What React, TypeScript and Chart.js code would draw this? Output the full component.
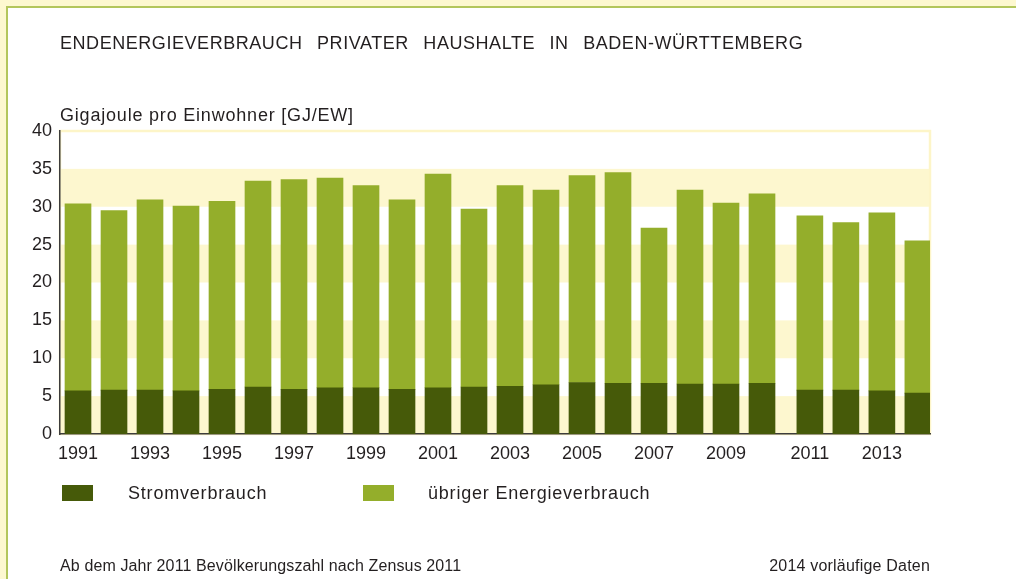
import React, { useEffect, useRef } from 'react';
import { Chart, registerables } from 'chart.js';

Chart.register(...registerables);

// ---- data ----
const years = [
  1991, 1992, 1993, 1994, 1995, 1996, 1997, 1998, 1999, 2000,
  2001, 2002, 2003, 2004, 2005, 2006, 2007, 2008, 2009, 2010,
  2011, 2012, 2013, 2014,
];
const stromverbrauch = [
  5.7, 5.8, 5.8, 5.7, 5.9, 6.2, 5.9, 6.1, 6.1, 5.9,
  6.1, 6.2, 6.3, 6.5, 6.8, 6.7, 6.7, 6.6, 6.6, 6.7,
  5.8, 5.8, 5.7, 5.4,
];
const uebrigerEnergieverbrauch = [
  24.7, 23.7, 25.1, 24.4, 24.8, 27.2, 27.7, 27.7, 26.7, 25.0,
  28.2, 23.5, 26.5, 25.7, 27.3, 27.8, 20.5, 25.6, 23.9, 25.0,
  23.0, 22.1, 23.5, 20.1,
];
const tickYears = [1991, 1993, 1995, 1997, 1999, 2001, 2003, 2005, 2007, 2009, 2011, 2013];
const yTickValues = [0, 5, 10, 15, 20, 25, 30, 35, 40];

const seriesNames = ['Stromverbrauch', 'übriger Energieverbrauch'];
const titleText = 'ENDENERGIEVERBRAUCH PRIVATER HAUSHALTE IN BADEN-WÜRTTEMBERG';
const unitText = 'Gigajoule pro Einwohner [GJ/EW]';
const noteLeft = 'Ab dem Jahr 2011 Bevölkerungszahl nach Zensus 2011';
const noteRight = '2014 vorläufige Daten';

// ---- styles / layout ----
const CENSUS_BREAK = 2011;
const BREAK_GAP = 0.33; // extra space before the census break
const DARK = '#465a09';
const LIGHT = '#94ae2b';
const STRIPE = '#fdf7cf';
const FRAME_YELLOW = '#fdf5c8';
const OUTER_YELLOW = '#fdf8d0';
const OUTER_GREEN = '#b3c65c';
const TEXT = '#231f20';
const FONT = '"Liberation Sans", Arial, sans-serif';

const pos = (year: number) => (year >= CENSUS_BREAK ? year + BREAK_GAP : year);

const stripePlugin = {
  id: 'stripes',
  beforeDraw(chart: any) {
    const { ctx, chartArea: a, scales } = chart;
    const y = scales.y;
    ctx.save();
    ctx.fillStyle = STRIPE;
    for (let i = 0; i < yTickValues.length - 1; i += 2) {
      const top = y.getPixelForValue(yTickValues[i + 1]);
      const bot = y.getPixelForValue(yTickValues[i]);
      ctx.fillRect(a.left, top, a.right - a.left, bot - top);
    }
    ctx.strokeStyle = FRAME_YELLOW;
    ctx.lineWidth = 2.5;
    ctx.strokeRect(a.left, a.top, a.right - a.left, a.bottom - a.top);
    ctx.restore();
  },
};

export default function App() {
  const ref = useRef<HTMLCanvasElement>(null);

  useEffect(() => {
    if (!ref.current) return;
    const xStart = years[0] - 0.5;
    const chart = new Chart(ref.current, {
      type: 'bar',
      data: {
        datasets: [
          {
            label: seriesNames[0],
            data: years.map((yr, i) => ({ x: pos(yr), y: stromverbrauch[i] })),
            backgroundColor: DARK,
            borderWidth: 0,
            barThickness: 26,
          },
          {
            label: seriesNames[1],
            data: years.map((yr, i) => ({ x: pos(yr), y: uebrigerEnergieverbrauch[i] })),
            backgroundColor: LIGHT,
            borderWidth: 0,
            barThickness: 26,
          },
        ],
      },
      options: {
        animation: false,
        responsive: false,
        maintainAspectRatio: false,
        layout: { padding: { left: 0, top: 131, right: 86, bottom: 105 } },
        plugins: {
          legend: { display: false },
          tooltip: { enabled: false },
          title: { display: false },
        },
        scales: {
          x: {
            type: 'linear',
            stacked: true,
            offset: false,
            min: xStart,
            max: xStart + 870 / 36,
            grid: { display: false, drawTicks: false },
            border: { display: true, color: '#3c3c3c', width: 1.5 },
            afterBuildTicks: (scale: any) => {
              scale.ticks = tickYears.map((yr) => ({ value: pos(yr) }));
            },
            afterFit: (scale: any) => {
              scale.height = 40;
            },
            ticks: {
              autoSkip: false,
              maxRotation: 0,
              padding: 9,
              color: TEXT,
              font: { family: FONT, size: 18 },
              callback: (_v: any, i: number) => String(tickYears[i]),
            },
          },
          y: {
            stacked: true,
            min: yTickValues[0],
            max: yTickValues[yTickValues.length - 1],
            grid: { display: false, drawTicks: false },
            border: { display: true, color: '#3c3c3c', width: 1.5 },
            afterFit: (scale: any) => {
              scale.width = 60;
            },
            ticks: {
              stepSize: 5,
              padding: 8,
              color: TEXT,
              font: { family: FONT, size: 18 },
            },
          },
        },
      },
      plugins: [stripePlugin],
    } as any);
    return () => chart.destroy();
  }, []);

  const txt = (extra: React.CSSProperties): React.CSSProperties => ({
    position: 'absolute',
    margin: 0,
    fontFamily: FONT,
    color: TEXT,
    lineHeight: 1,
    whiteSpace: 'pre',
    ...extra,
  });

  return (
    <div
      style={{
        position: 'absolute',
        left: 0,
        top: 0,
        width: 1016,
        height: 579,
        overflow: 'hidden',
        background: OUTER_YELLOW,
      }}
    >
      <div
        style={{
          position: 'absolute',
          left: 6,
          top: 6,
          right: 0,
          bottom: 0,
          background: '#fff',
          borderLeft: `2px solid ${OUTER_GREEN}`,
          borderTop: `2px solid ${OUTER_GREEN}`,
        }}
      />
      <canvas
        ref={ref}
        width={1016}
        height={579}
        style={{ position: 'absolute', left: 0, top: 0, width: 1016, height: 579 }}
      />
      <div style={txt({ left: 60, top: 34, fontSize: 18, letterSpacing: 0.55, wordSpacing: 9 })}>
        {titleText}
      </div>
      <div style={txt({ left: 60, top: 106, fontSize: 18, letterSpacing: 0.8 })}>{unitText}</div>
      <div style={{ position: 'absolute', left: 62, top: 485, width: 31, height: 16, background: DARK }} />
      <div style={txt({ left: 128, top: 484, fontSize: 18, letterSpacing: 0.8 })}>{seriesNames[0]}</div>
      <div style={{ position: 'absolute', left: 363, top: 485, width: 31, height: 16, background: LIGHT }} />
      <div style={txt({ left: 428, top: 484, fontSize: 18, letterSpacing: 0.8 })}>{seriesNames[1]}</div>
      <div style={txt({ left: 60, top: 558, fontSize: 16, letterSpacing: 0.12 })}>{noteLeft}</div>
      <div style={txt({ right: 1016 - 930, top: 558, fontSize: 16, letterSpacing: 0.2 })}>{noteRight}</div>
    </div>
  );
}
